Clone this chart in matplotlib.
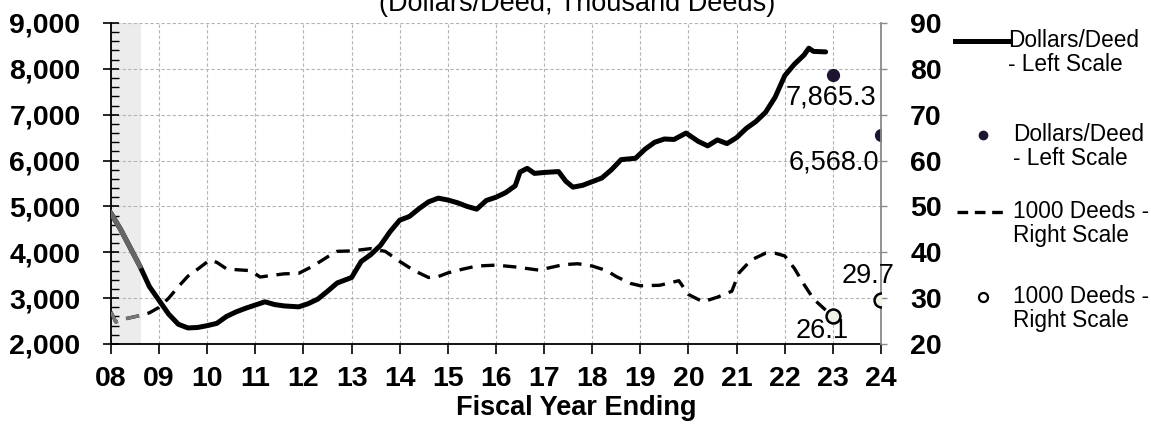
# Dollars per deed and thousand deeds by fiscal year

import matplotlib.pyplot as plt
from matplotlib.lines import Line2D
from matplotlib.ticker import MultipleLocator, FuncFormatter

plt.rcParams['font.family'] = ['Liberation Sans', 'DejaVu Sans']

# Dollars/Deed (left scale), monthly-ish readings, x = fiscal year (08 = 2008)
dollars_x = [8.0, 8.2, 8.4, 8.6, 8.8, 9.0, 9.2, 9.4, 9.6, 9.8, 10.0, 10.2, 10.4,
             10.6, 10.8, 11.0, 11.2, 11.4, 11.6, 11.9, 12.1, 12.3, 12.5, 12.7,
             13.0, 13.2, 13.4, 13.6, 13.8, 14.0, 14.2, 14.4, 14.6, 14.8, 15.0,
             15.2, 15.4, 15.6, 15.8, 16.0, 16.2, 16.4, 16.5, 16.65, 16.8, 17.0,
             17.3, 17.45, 17.6, 17.8, 18.0, 18.2, 18.4, 18.6, 18.9, 19.1, 19.3,
             19.5, 19.7, 19.95, 20.2, 20.4, 20.6, 20.8, 21.0, 21.2, 21.4, 21.6,
             21.8, 22.0, 22.2, 22.4, 22.5, 22.6, 22.85]
dollars_y = [4850, 4500, 4100, 3700, 3250, 2950, 2650, 2430, 2350, 2360, 2400,
             2450, 2600, 2700, 2780, 2850, 2920, 2860, 2830, 2810, 2880, 2980,
             3150, 3330, 3450, 3800, 3950, 4150, 4450, 4700, 4780, 4950, 5100,
             5180, 5140, 5080, 5000, 4940, 5130, 5200, 5300, 5450, 5750, 5830,
             5720, 5740, 5760, 5550, 5420, 5460, 5540, 5620, 5800, 6020, 6050,
             6250, 6400, 6470, 6460, 6600, 6420, 6320, 6450, 6370, 6500, 6700,
             6850, 7050, 7380, 7850, 8100, 8300, 8450, 8380, 8370]

# 1000 Deeds (right scale)
deeds_x = [8.0, 8.1, 8.3, 8.6, 8.8, 9.0, 9.2, 9.4, 9.6, 9.8, 10.05, 10.2, 10.4,
           10.6, 10.9, 11.1, 11.3, 11.6, 11.9, 12.2, 12.5, 12.7, 13.0, 13.4,
           13.7, 14.0, 14.3, 14.6, 14.8, 15.0, 15.3, 15.6, 16.0, 16.4, 16.9,
           17.1, 17.4, 17.7, 18.0, 18.3, 18.5, 18.8, 19.0, 19.4, 19.8, 20.0,
           20.3, 20.6, 20.9, 21.05, 21.3, 21.6, 21.8, 22.0, 22.2, 22.4, 22.6,
           22.85]
deeds_y = [27.0, 24.8, 25.5, 26.2, 26.8, 28.0, 30.0, 32.5, 34.8, 36.3, 38.3,
           37.8, 36.4, 36.2, 36.0, 34.6, 34.9, 35.3, 35.4, 37.0, 39.0, 40.2,
           40.3, 40.8, 40.2, 38.0, 36.0, 34.5, 34.7, 35.5, 36.3, 37.0, 37.2,
           36.8, 36.1, 36.6, 37.3, 37.5, 37.0, 36.0, 34.7, 33.2, 32.7, 32.8,
           33.8, 30.8, 29.2, 30.2, 31.5, 35.5, 38.3, 39.8, 39.8, 39.2, 36.5,
           33.0, 29.8, 27.4]

# single-point values
point_x = [23, 24]
point_dollars = [7865.3, 6568.0]
point_deeds = [26.1, 29.7]

shade_end = 8.62  # shaded (preliminary) part at the start

fig = plt.figure(figsize=(11.51, 4.24), dpi=100)
ax = fig.add_axes([0.0964, 0.1887, 0.6690, 0.7571])
ax2 = ax.twinx()

ax.axvspan(8, shade_end, color='#ececec', zorder=0, lw=0)

# left scale
ax.plot(dollars_x, dollars_y, color='black', lw=3.6, solid_capstyle='round',
        solid_joinstyle='round', zorder=3)
sx = [x for x in dollars_x if x <= shade_end + 0.05]
ax.plot(sx, dollars_y[:len(sx)], color='#666666', lw=3.6, zorder=4)
ax.plot(point_x, point_dollars, 'o', color='#1c1430', ms=8.5, zorder=5)

# right scale
ax2.plot(deeds_x, deeds_y, color='black', lw=2.4, dashes=(4, 2.6), zorder=3)
dx = [x for x in deeds_x if x <= shade_end]
ax2.plot(dx, deeds_y[:len(dx)], color='#777777', lw=2.4, dashes=(4, 2.6), zorder=4)
ax2.plot(point_x, point_deeds, 'o', mfc='#f0f0e4', mec='black', mew=1.8, ms=10, zorder=5)

ax.set_xlim(8, 24)
ax.set_ylim(2000, 9000)
ax2.set_ylim(20, 90)

ax.set_xticks(range(8, 25))
ax.xaxis.set_major_formatter(FuncFormatter(lambda v, p: '%02d' % v))
ax.yaxis.set_major_locator(MultipleLocator(1000))
ax.yaxis.set_minor_locator(MultipleLocator(200))
ax.yaxis.set_major_formatter(FuncFormatter(lambda v, p: '{:,.0f}'.format(v)))
ax2.yaxis.set_major_locator(MultipleLocator(10))

ax.grid(True, which='major', color='#b5b5b5', lw=0.8, ls=(0, (3, 2)))
ax.set_axisbelow(True)

for s in ['top', 'right']:
    ax.spines[s].set_visible(False)
for s in ['top', 'left', 'bottom']:
    ax2.spines[s].set_visible(False)
ax.spines['left'].set_linewidth(1.3)
ax.spines['bottom'].set_linewidth(1.3)
ax2.spines['right'].set_color('#8a8a8a')
ax2.spines['right'].set_linewidth(1.3)

ax.tick_params(axis='y', which='major', direction='inout', length=12, width=1.2,
               pad=16, labelsize=20.5)
ax.tick_params(axis='y', which='minor', direction='in', length=6, width=1)
ax.tick_params(axis='x', direction='out', length=7, width=1.2, pad=9, labelsize=20.5)
ax2.tick_params(axis='y', direction='out', length=4, width=1, color='#8a8a8a',
                pad=17, labelsize=20.5)
for lab in ax.get_xticklabels() + ax.get_yticklabels() + ax2.get_yticklabels():
    lab.set_fontweight('bold')

# labels of the single points
ax.annotate('7,865.3', (point_x[0], point_dollars[0]), xytext=(-1, -16),
            textcoords='offset points', ha='center', va='center', fontsize=19.5)
ax.annotate('6,568.0', (point_x[1], point_dollars[1]), xytext=(-34, -20),
            textcoords='offset points', ha='center', va='center', fontsize=19.5)
ax2.annotate('29.7', (point_x[1], point_deeds[1]), xytext=(-9, 17),
             textcoords='offset points', ha='center', va='center', fontsize=19.5)
ax2.annotate('26.1', (point_x[0], point_deeds[0]), xytext=(-8, -11),
             textcoords='offset points', ha='center', va='center', fontsize=19.5)

fig.text(0.501, 0.99, '(Dollars/Deed, Thousand Deeds)', ha='center', va='center',
         fontsize=19.5)
fig.text(0.501, 0.038, 'Fiscal Year Ending', ha='center', va='center',
         fontsize=19.5, fontweight='bold')

# legend drawn by hand
W, H = 1151.0, 424.0
def fx(px):
    return px / W
def fy(py):
    return 1 - py / H

entries = [('Dollars/Deed\n- Left Scale', 41, 'solid'),
           ('Dollars/Deed\n- Left Scale', 135, 'dot'),
           ('1000 Deeds -\nRight Scale', 212, 'dash'),
           ('1000 Deeds -\nRight Scale', 297, 'circle')]
for text, py, kind in entries:
    if kind == 'solid':
        fig.add_artist(Line2D([fx(955), fx(1008)], [fy(py), fy(py)], color='black', lw=3.6))
        tx = 1008
    elif kind == 'dot':
        fig.add_artist(Line2D([fx(983)], [fy(py)], marker='o', color='#1c1430', ms=6))
        tx = 1013
    elif kind == 'dash':
        fig.add_artist(Line2D([fx(957), fx(1003)], [fy(py), fy(py)], color='black',
                              lw=2.4, dashes=(3.2, 2)))
        tx = 1013
    else:
        fig.add_artist(Line2D([fx(983)], [fy(py)], marker='o', mfc='white', mec='black',
                              mew=1.6, ms=6.5))
        tx = 1013
    fig.text(fx(tx), fy(py - 12), text, ha='left', va='top', fontsize=16.3,
             linespacing=1.05)

fig.savefig('out.png', dpi=100)
